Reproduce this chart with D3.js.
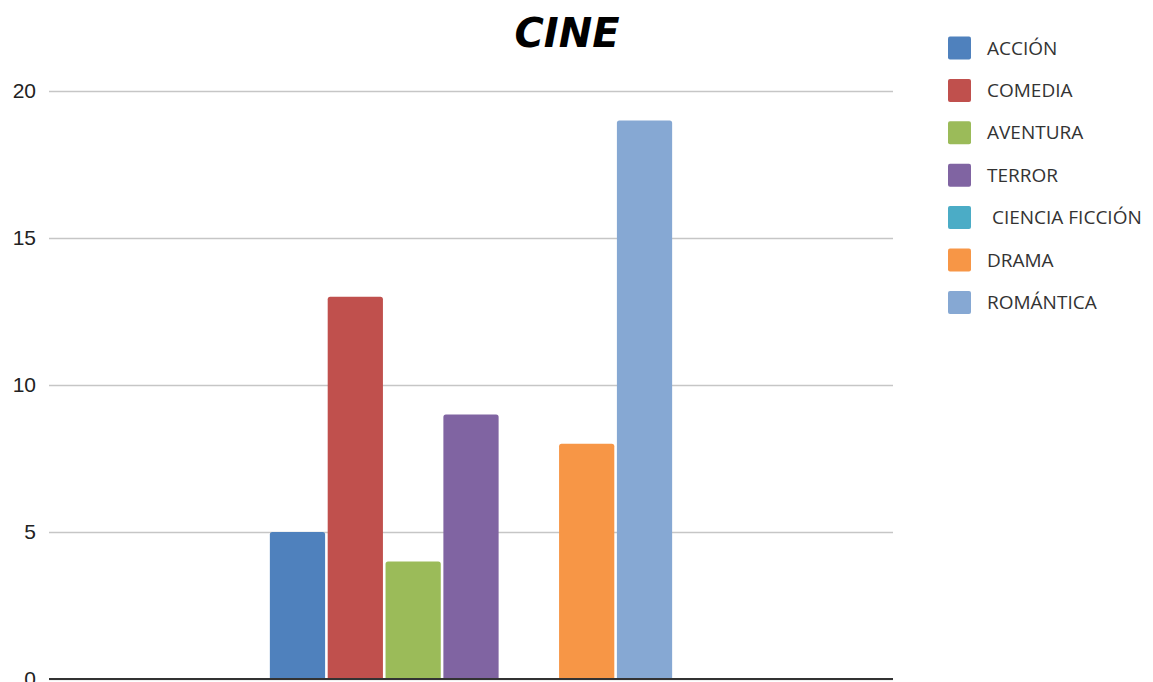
<!DOCTYPE html>
<html>
<head>
<meta charset="utf-8">
<script src="https://cdn.jsdelivr.net/npm/d3@7"></script>
<style>
  html, body { margin: 0; padding: 0; background: #fff; }
  svg { display: block; }
</style>
</head>
<body>
<svg id="chart" width="1153" height="682"></svg>
<script>
const title = "CINE";
const category = ["CINE"];
const seriesNames = ["ACCIÓN", "COMEDIA", "AVENTURA", "TERROR", " CIENCIA FICCIÓN", "DRAMA", "ROMÁNTICA"];
const seriesValues = [5, 13, 4, 9, 0, 8, 19];
const seriesColors = ["#4F81BD", "#C0504D", "#9BBB59", "#8064A2", "#4BACC6", "#F79646", "#86A8D3"];
const yTicks = [0, 5, 10, 15, 20];

const svg = d3.select("#chart");
const plot = { left: 49, right: 893, top: 91, bottom: 679 };

const y = d3.scaleLinear().domain([0, 20]).range([plot.bottom, plot.top]);
const x0 = d3.scaleBand().domain(category).range([plot.left, plot.right]).paddingInner(0).paddingOuter(0.549);
const x1 = d3.scaleBand().domain(seriesNames).range([0, x0.bandwidth()]).paddingInner(0.045).paddingOuter(0);

// gridlines
const yAxis = d3.axisLeft(y).tickValues(yTicks).tickSize(-(plot.right - plot.left)).tickPadding(13);
const ga = svg.append("g").attr("transform", `translate(${plot.left},0)`).call(yAxis);
ga.select(".domain").remove();
ga.selectAll(".tick line").attr("stroke", "#c6c6c6").attr("stroke-width", 1.5);
ga.selectAll(".tick text")
  .attr("font-family", "'Liberation Sans', Arial, sans-serif")
  .attr("font-size", 21).attr("fill", "#222");

// bars
const g = svg.append("g").attr("transform", `translate(${x0(category[0])},0)`);
const data = seriesNames.map((n, i) => ({ name: n, value: seriesValues[i], color: seriesColors[i] }));
g.selectAll("path.bar").data(data.filter(d => d.value > 0)).join("path")
  .attr("class", "bar")
  .attr("fill", d => d.color)
  .attr("d", d => {
    const x = x1(d.name), w = x1.bandwidth(), top = y(d.value), bot = y(0), r = 2.5;
    return `M${x},${bot}V${top + r}Q${x},${top} ${x + r},${top}H${x + w - r}Q${x + w},${top} ${x + w},${top + r}V${bot}Z`;
  });

// baseline
svg.append("line")
  .attr("x1", plot.left).attr("x2", plot.right)
  .attr("y1", y(0)).attr("y2", y(0))
  .attr("stroke", "#333").attr("stroke-width", 2);

// title
svg.append("text")
  .attr("x", 567).attr("y", 47)
  .attr("text-anchor", "middle")
  .attr("font-family", "'Comic Sans MS', 'DejaVu Sans', sans-serif")
  .attr("font-weight", "bold").attr("font-style", "italic")
  .attr("font-size", 40).attr("fill", "#000")
  .text(title);

// legend
const legend = svg.append("g").attr("transform", "translate(948,48)");
const item = legend.selectAll("g").data(data).join("g")
  .attr("transform", (d, i) => `translate(0,${i * 42.4})`);
item.append("rect").attr("x", 0).attr("y", -11.5).attr("width", 23).attr("height", 23)
  .attr("rx", 2).attr("fill", d => d.color);
item.append("text").attr("x", 39).attr("y", 0).attr("dy", "0.35em")
  .attr("font-family", "'Open Sans', sans-serif").attr("font-size", 19)
  .attr("fill", "#333").attr("xml:space", "preserve")
  .style("white-space", "pre")
  .text(d => d.name);
</script>
</body>
</html>
